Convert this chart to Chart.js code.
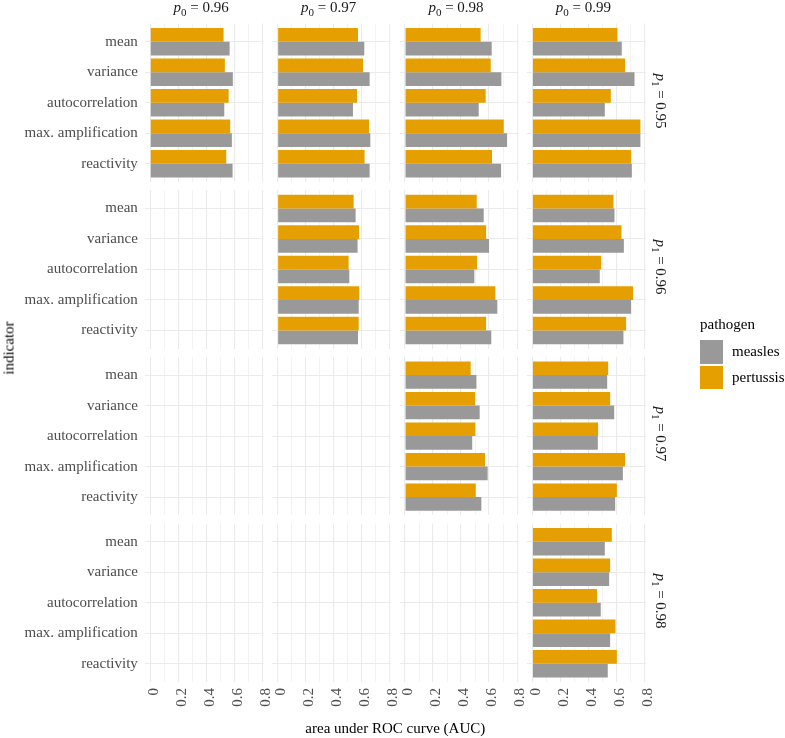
<!DOCTYPE html>
<html>
<head>
<meta charset="utf-8">
<script src="https://cdn.jsdelivr.net/npm/chart.js@4.4.0/dist/chart.umd.min.js"></script>
<style>
  body { margin: 0; background: #fff; }
  #wrap { position: relative; width: 785px; height: 738px; overflow: hidden;
          font-family: 'Liberation Serif', 'DejaVu Serif', serif; }
  #wrap canvas { position: absolute; left: 0; top: 0; }
  .txt { position: absolute; font-size: 15px; line-height: 15px; white-space: nowrap; color: #1a1a1a; }
  .sub { font-size: 11px; position: relative; top: 4px; }
  .key { position: absolute; width: 23.5px; height: 23.5px; }
</style>
</head>
<body>
<div id="wrap"></div>
<script>
// indicators top to bottom, facet labels
const indicators = ['mean', 'variance', 'autocorrelation', 'max. amplification', 'reactivity'];
const p0Labels = ['0.96', '0.97', '0.98', '0.99'];
const p1Labels = ['0.95', '0.96', '0.97', '0.98'];
const xTicks = [0, 0.1, 0.2, 0.3, 0.4, 0.5, 0.6, 0.7, 0.8];

// AUC per panel: one row per p1, one entry per p0 column (null = not run)
const measles_p1_095 = [
  [0.567, 0.590, 0.529, 0.583, 0.588],
  [0.619, 0.657, 0.538, 0.662, 0.657],
  [0.619, 0.688, 0.526, 0.729, 0.686],
  [0.638, 0.729, 0.517, 0.771, 0.710]
];
const pertussis_p1_095 = [
  [0.524, 0.533, 0.560, 0.571, 0.543],
  [0.574, 0.610, 0.567, 0.653, 0.621],
  [0.540, 0.612, 0.576, 0.705, 0.621],
  [0.607, 0.662, 0.560, 0.771, 0.705]
];
const measles_p1_096 = [
  null,
  [0.557, 0.571, 0.512, 0.579, 0.574],
  [0.562, 0.600, 0.495, 0.659, 0.616],
  [0.586, 0.653, 0.481, 0.705, 0.650]
];
const pertussis_p1_096 = [
  null,
  [0.543, 0.581, 0.507, 0.583, 0.579],
  [0.512, 0.579, 0.514, 0.645, 0.579],
  [0.579, 0.636, 0.491, 0.719, 0.669]
];
const measles_p1_097 = [
  null,
  null,
  [0.510, 0.533, 0.480, 0.590, 0.545],
  [0.534, 0.584, 0.467, 0.646, 0.591]
];
const pertussis_p1_097 = [
  null,
  null,
  [0.469, 0.500, 0.502, 0.571, 0.505],
  [0.541, 0.555, 0.469, 0.662, 0.603]
];
const measles_p1_098 = [null, null, null, [0.517, 0.548, 0.488, 0.555, 0.538]];
const pertussis_p1_098 = [null, null, null, [0.567, 0.555, 0.462, 0.593, 0.603]];

const measlesRows = [measles_p1_095, measles_p1_096, measles_p1_097, measles_p1_098];
const pertussisRows = [pertussis_p1_095, pertussis_p1_096, pertussis_p1_097, pertussis_p1_098];

const W = 785, H = 738;
const panelL0 = 144.8, colStep = 127.4, panelW = 118.8;
const panelT0 = 23.4, rowStep = 166.7, panelH = 158.6;
const xMin = -0.0386, xMax = 0.8096;
const gridCol = '#EBEBEB';
const serif = "'Liberation Serif', 'DejaVu Serif', serif";
const measlesCol = '#999999', pertussisCol = '#E69F00';

Chart.defaults.font.family = serif;

const wrap = document.getElementById('wrap');

function addText(html, css) {
  const d = document.createElement('div');
  d.className = 'txt';
  d.innerHTML = html;
  Object.assign(d.style, css);
  wrap.appendChild(d);
  return d;
}

const toPts = arr => arr ? arr.map((v, i) => ({ x: v, y: i })) : [];

for (let r = 0; r < 4; r++) {
  for (let c = 0; c < 4; c++) {
    const cv = document.createElement('canvas');
    cv.width = W; cv.height = H;
    wrap.appendChild(cv);

    const left = panelL0 + c * colStep, top = panelT0 + r * rowStep;
    const showY = c === 0, showX = r === 3;
    const yW = showY ? left : 0;
    const xH = showX ? H - (top + panelH) : 0;

    new Chart(cv, {
      type: 'bar',
      data: {
        datasets: [
          { label: 'pertussis', data: toPts(pertussisRows[r][c]), backgroundColor: pertussisCol,
            categoryPercentage: 0.9, barPercentage: 1 },
          { label: 'measles', data: toPts(measlesRows[r][c]), backgroundColor: measlesCol,
            categoryPercentage: 0.9, barPercentage: 1 }
        ]
      },
      options: {
        indexAxis: 'y',
        responsive: false,
        animation: false,
        layout: { padding: { left: left - yW, top: top, right: W - (left + panelW), bottom: H - (top + panelH) - xH } },
        plugins: { legend: { display: false }, tooltip: { enabled: false } },
        scales: {
          x: {
            type: 'linear', min: xMin, max: xMax, offset: false,
            border: { display: false },
            grid: { color: gridCol, offset: false, drawTicks: false,
                    lineWidth: ctx => (ctx.index % 2 ? 0.6 : 1.1) },
            ticks: {
              display: showX, autoSkip: false, minRotation: 90, maxRotation: 90,
              padding: 6, labelOffset: 3.5, color: '#4D4D4D', font: { size: 15 },
              callback: (v, i) => (i % 2 ? '' : (v === 0 ? '0' : v.toFixed(1)))
            },
            afterBuildTicks: s => { s.ticks = xTicks.map(v => ({ value: v })); },
            afterFit: s => { s.height = xH; s.paddingLeft = 0; s.paddingRight = 0; }
          },
          y: {
            type: 'linear', min: -0.6, max: 4.6, reverse: true, offset: false,
            border: { display: false },
            grid: { color: gridCol, offset: false, drawTicks: false, lineWidth: 1.1 },
            ticks: {
              display: showY, autoSkip: false, padding: 7, color: '#4D4D4D', font: { size: 15 },
              callback: v => indicators[v] ?? ''
            },
            afterBuildTicks: s => { s.ticks = indicators.map((n, i) => ({ value: i })); },
            afterFit: s => { s.width = yW; s.paddingTop = 0; s.paddingBottom = 0; }
          }
        }
      }
    });
  }
}

// strip labels
p0Labels.forEach((lab, c) => {
  const cx = panelL0 + c * colStep + panelW / 2 - 3;
  const d = addText('<i>p</i><span class="sub">0</span> = ' + lab, { top: '0px', left: cx + 'px' });
  d.style.transform = 'translateX(-50%)';
});
p1Labels.forEach((lab, r) => {
  const cy = panelT0 + r * rowStep + panelH / 2 - 2;
  const d = addText('<i>p</i><span class="sub">1</span> = ' + lab, { top: cy + 'px', left: '660px' });
  d.style.transform = 'translate(-50%, -50%) rotate(90deg)';
});

// axis titles
addText('area under ROC curve (AUC)', { top: '721.4px', left: (panelL0 + (3 * colStep + panelW) / 2) + 'px', color: '#000' })
  .style.transform = 'translateX(-50%)';
addText('indicator', { top: '348px', left: '9px', color: '#000' })
  .style.transform = 'translate(-50%, -50%) rotate(-90deg)';

// legend
addText('pathogen', { top: '317.4px', left: '700px', color: '#000' });
[['measles', measlesCol, 340], ['pertussis', pertussisCol, 365.5]].forEach(([name, col, y]) => {
  const k = document.createElement('div');
  k.className = 'key';
  Object.assign(k.style, { left: '699.5px', top: y + 'px', background: col });
  wrap.appendChild(k);
  addText(name, { top: y + 'px', left: '732px', lineHeight: '23.5px', color: '#000' });
});
</script>
</body>
</html>
